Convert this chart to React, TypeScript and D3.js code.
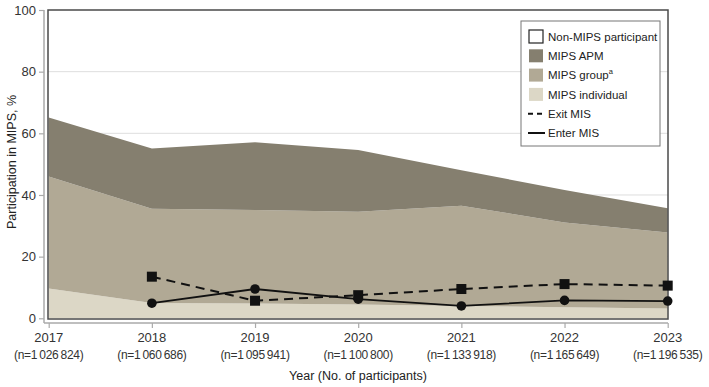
import React, { useRef, useEffect } from 'react';
import * as d3 from 'd3';

// Years and participant counts
const years = [2017, 2018, 2019, 2020, 2021, 2022, 2023];
const counts = ['1026824', '1060686', '1095941', '1100800', '1133918', '1165649', '1196535'];

// Stacked shares (%), bottom to top
const individual = [9.7, 5.0, 4.8, 4.5, 4.0, 3.6, 3.2];
const group = [36.3, 30.5, 30.3, 30.1, 32.5, 27.5, 24.6];
const apm = [19.1, 19.6, 22.0, 20.0, 11.5, 10.5, 7.9];

// MIS transitions (%), from 2018
const misYears = [2018, 2019, 2020, 2021, 2022, 2023];
const exitMis = [13.5, 5.7, 7.5, 9.5, 11.1, 10.6];
const enterMis = [4.9, 9.5, 6.2, 4.0, 5.8, 5.6];

const yTicks = [0, 20, 40, 60, 80, 100];

const colors = { apm: '#857f6f', group: '#b1a995', individual: '#dcd7c6' };
const FONT = '"Liberation Sans", Arial, sans-serif';

// formats 1026824 as "1 026 824" with thin spaces
const fmtN = (s: string) => s.replace(/\B(?=(\d{3})+(?!\d))/g, '\u2009');

const App = () => {
  const ref = useRef<SVGSVGElement>(null);

  useEffect(() => {
    const svg = d3.select(ref.current);
    svg.selectAll('*').remove();

    const x = d3.scaleLinear().domain([2017, 2023]).range([48.7, 667.7]);
    const y = d3.scaleLinear().domain([0, 100]).range([318.3, 10]);

    // grid
    svg.append('g')
      .selectAll('line')
      .data(yTicks.filter(d => d > 0 && d < 100))
      .enter()
      .append('line')
      .attr('x1', 48).attr('x2', 668)
      .attr('y1', d => y(d)).attr('y2', d => y(d))
      .attr('stroke', '#dedede')
      .attr('stroke-width', 1);

    // stacked areas
    const table = years.map((yr, i) => ({ year: yr, individual: individual[i], group: group[i], apm: apm[i] }));
    const stack = d3.stack<any>().keys(['individual', 'group', 'apm']);
    const layers = stack(table);
    const area = d3.area<any>()
      .x(d => x(d.data.year))
      .y0(d => y(d[0]))
      .y1(d => y(d[1]));

    svg.append('g')
      .selectAll('path')
      .data(layers)
      .enter()
      .append('path')
      .attr('d', area)
      .attr('fill', d => colors[d.key as keyof typeof colors]);

    // frame
    svg.append('rect')
      .attr('x', 48).attr('y', 10)
      .attr('width', 620).attr('height', 309)
      .attr('fill', 'none')
      .attr('stroke', '#4a4a4a')
      .attr('stroke-width', 1.5);

    // left axis (offset)
    const yAxis = svg.append('g')
      .attr('transform', 'translate(44,0)')
      .call(d3.axisLeft(y).tickValues(yTicks).tickSize(5).tickPadding(3));
    yAxis.select('.domain').attr('d', 'M0,10V323').attr('stroke', '#aaa').attr('stroke-width', 1.5);
    yAxis.selectAll('.tick line').attr('stroke', '#aaa').attr('stroke-width', 1.2);
    yAxis.selectAll('.tick text')
      .attr('font-family', FONT).attr('font-size', 13).attr('fill', '#333');

    // bottom axis (offset)
    const xAxis = svg.append('g')
      .attr('transform', 'translate(0,323)')
      .call(d3.axisBottom(x).tickValues(years).tickSize(5).tickFormat(() => ''));
    xAxis.select('.domain').attr('d', 'M44,0H668').attr('stroke', '#aaa').attr('stroke-width', 1.5);
    xAxis.selectAll('.tick line').attr('stroke', '#aaa').attr('stroke-width', 1.2);

    const xl = svg.append('g');
    years.forEach((yr, i) => {
      const t = xl.append('text')
        .attr('x', x(yr))
        .attr('text-anchor', 'middle')
        .attr('font-family', FONT)
        .attr('fill', '#333');
      t.append('tspan').attr('x', x(yr)).attr('y', 342).attr('font-size', 13).text(String(yr));
      t.append('tspan').attr('x', x(yr)).attr('y', 358.5).attr('font-size', 12)
        .attr('letter-spacing', -0.3)
        .text(`(n=${fmtN(counts[i])})`);
    });

    // axis titles
    svg.append('text')
      .attr('x', 358).attr('y', 380)
      .attr('text-anchor', 'middle')
      .attr('font-family', FONT).attr('font-size', 12.5).attr('fill', '#222')
      .text('Year (No. of participants)');

    svg.append('text')
      .attr('transform', 'translate(16,162) rotate(-90)')
      .attr('text-anchor', 'middle')
      .attr('font-family', FONT).attr('font-size', 12.5).attr('fill', '#222')
      .text('Participation in MIPS, %');

    // MIS lines
    const line = d3.line<number>()
      .x((d, i) => x(misYears[i]))
      .y(d => y(d));

    svg.append('path')
      .datum(exitMis)
      .attr('d', line)
      .attr('fill', 'none')
      .attr('stroke', '#111')
      .attr('stroke-width', 2)
      .attr('stroke-dasharray', '9,6');

    svg.append('path')
      .datum(enterMis)
      .attr('d', line)
      .attr('fill', 'none')
      .attr('stroke', '#111')
      .attr('stroke-width', 1.8);

    svg.append('g')
      .selectAll('rect')
      .data(exitMis)
      .enter()
      .append('rect')
      .attr('x', (d, i) => x(misYears[i]) - 5)
      .attr('y', d => y(d) - 5)
      .attr('width', 10).attr('height', 10)
      .attr('fill', '#111');

    svg.append('g')
      .selectAll('circle')
      .data(enterMis)
      .enter()
      .append('circle')
      .attr('cx', (d, i) => x(misYears[i]))
      .attr('cy', d => y(d))
      .attr('r', 4.8)
      .attr('fill', '#111');

    // legend
    const lg = svg.append('g');
    lg.append('rect')
      .attr('x', 521).attr('y', 21)
      .attr('width', 139).attr('height', 125)
      .attr('fill', '#fff')
      .attr('stroke', '#777')
      .attr('stroke-width', 1);

    const rowY = (i: number) => 36.5 + i * 19.3;
    const swatches = [
      { label: 'Non-MIPS participant', fill: '#fff' },
      { label: 'MIPS APM', fill: colors.apm },
      { label: 'MIPS group', fill: colors.group, sup: 'a' },
      { label: 'MIPS individual', fill: colors.individual },
    ];
    swatches.forEach((s, i) => {
      lg.append('rect')
        .attr('x', 529).attr('y', rowY(i) - 6.5)
        .attr('width', 14).attr('height', 13)
        .attr('fill', s.fill)
        .attr('stroke', i === 0 ? '#222' : 'none')
        .attr('stroke-width', 1.2);
      const t = lg.append('text')
        .attr('x', 548).attr('y', rowY(i) + 4.2)
        .attr('font-family', FONT).attr('font-size', 11.5).attr('fill', '#222')
        .text(s.label);
      if (s.sup) {
        t.append('tspan').attr('dy', -5).attr('font-size', 7.5).text(s.sup);
      }
    });

    lg.append('line')
      .attr('x1', 528).attr('x2', 544)
      .attr('y1', rowY(4)).attr('y2', rowY(4))
      .attr('stroke', '#111').attr('stroke-width', 2)
      .attr('stroke-dasharray', '5,4');
    lg.append('text')
      .attr('x', 548).attr('y', rowY(4) + 4.2)
      .attr('font-family', FONT).attr('font-size', 11.5).attr('fill', '#222')
      .text('Exit MIS');

    lg.append('line')
      .attr('x1', 528).attr('x2', 545)
      .attr('y1', rowY(5)).attr('y2', rowY(5))
      .attr('stroke', '#111').attr('stroke-width', 2);
    lg.append('text')
      .attr('x', 548).attr('y', rowY(5) + 4.2)
      .attr('font-family', FONT).attr('font-size', 11.5).attr('fill', '#222')
      .text('Enter MIS');
  }, []);

  return (
    <svg ref={ref} width={709} height={387}
      style={{ position: 'absolute', left: 0, top: 0, background: '#fff' }} />
  );
};

export default App;
